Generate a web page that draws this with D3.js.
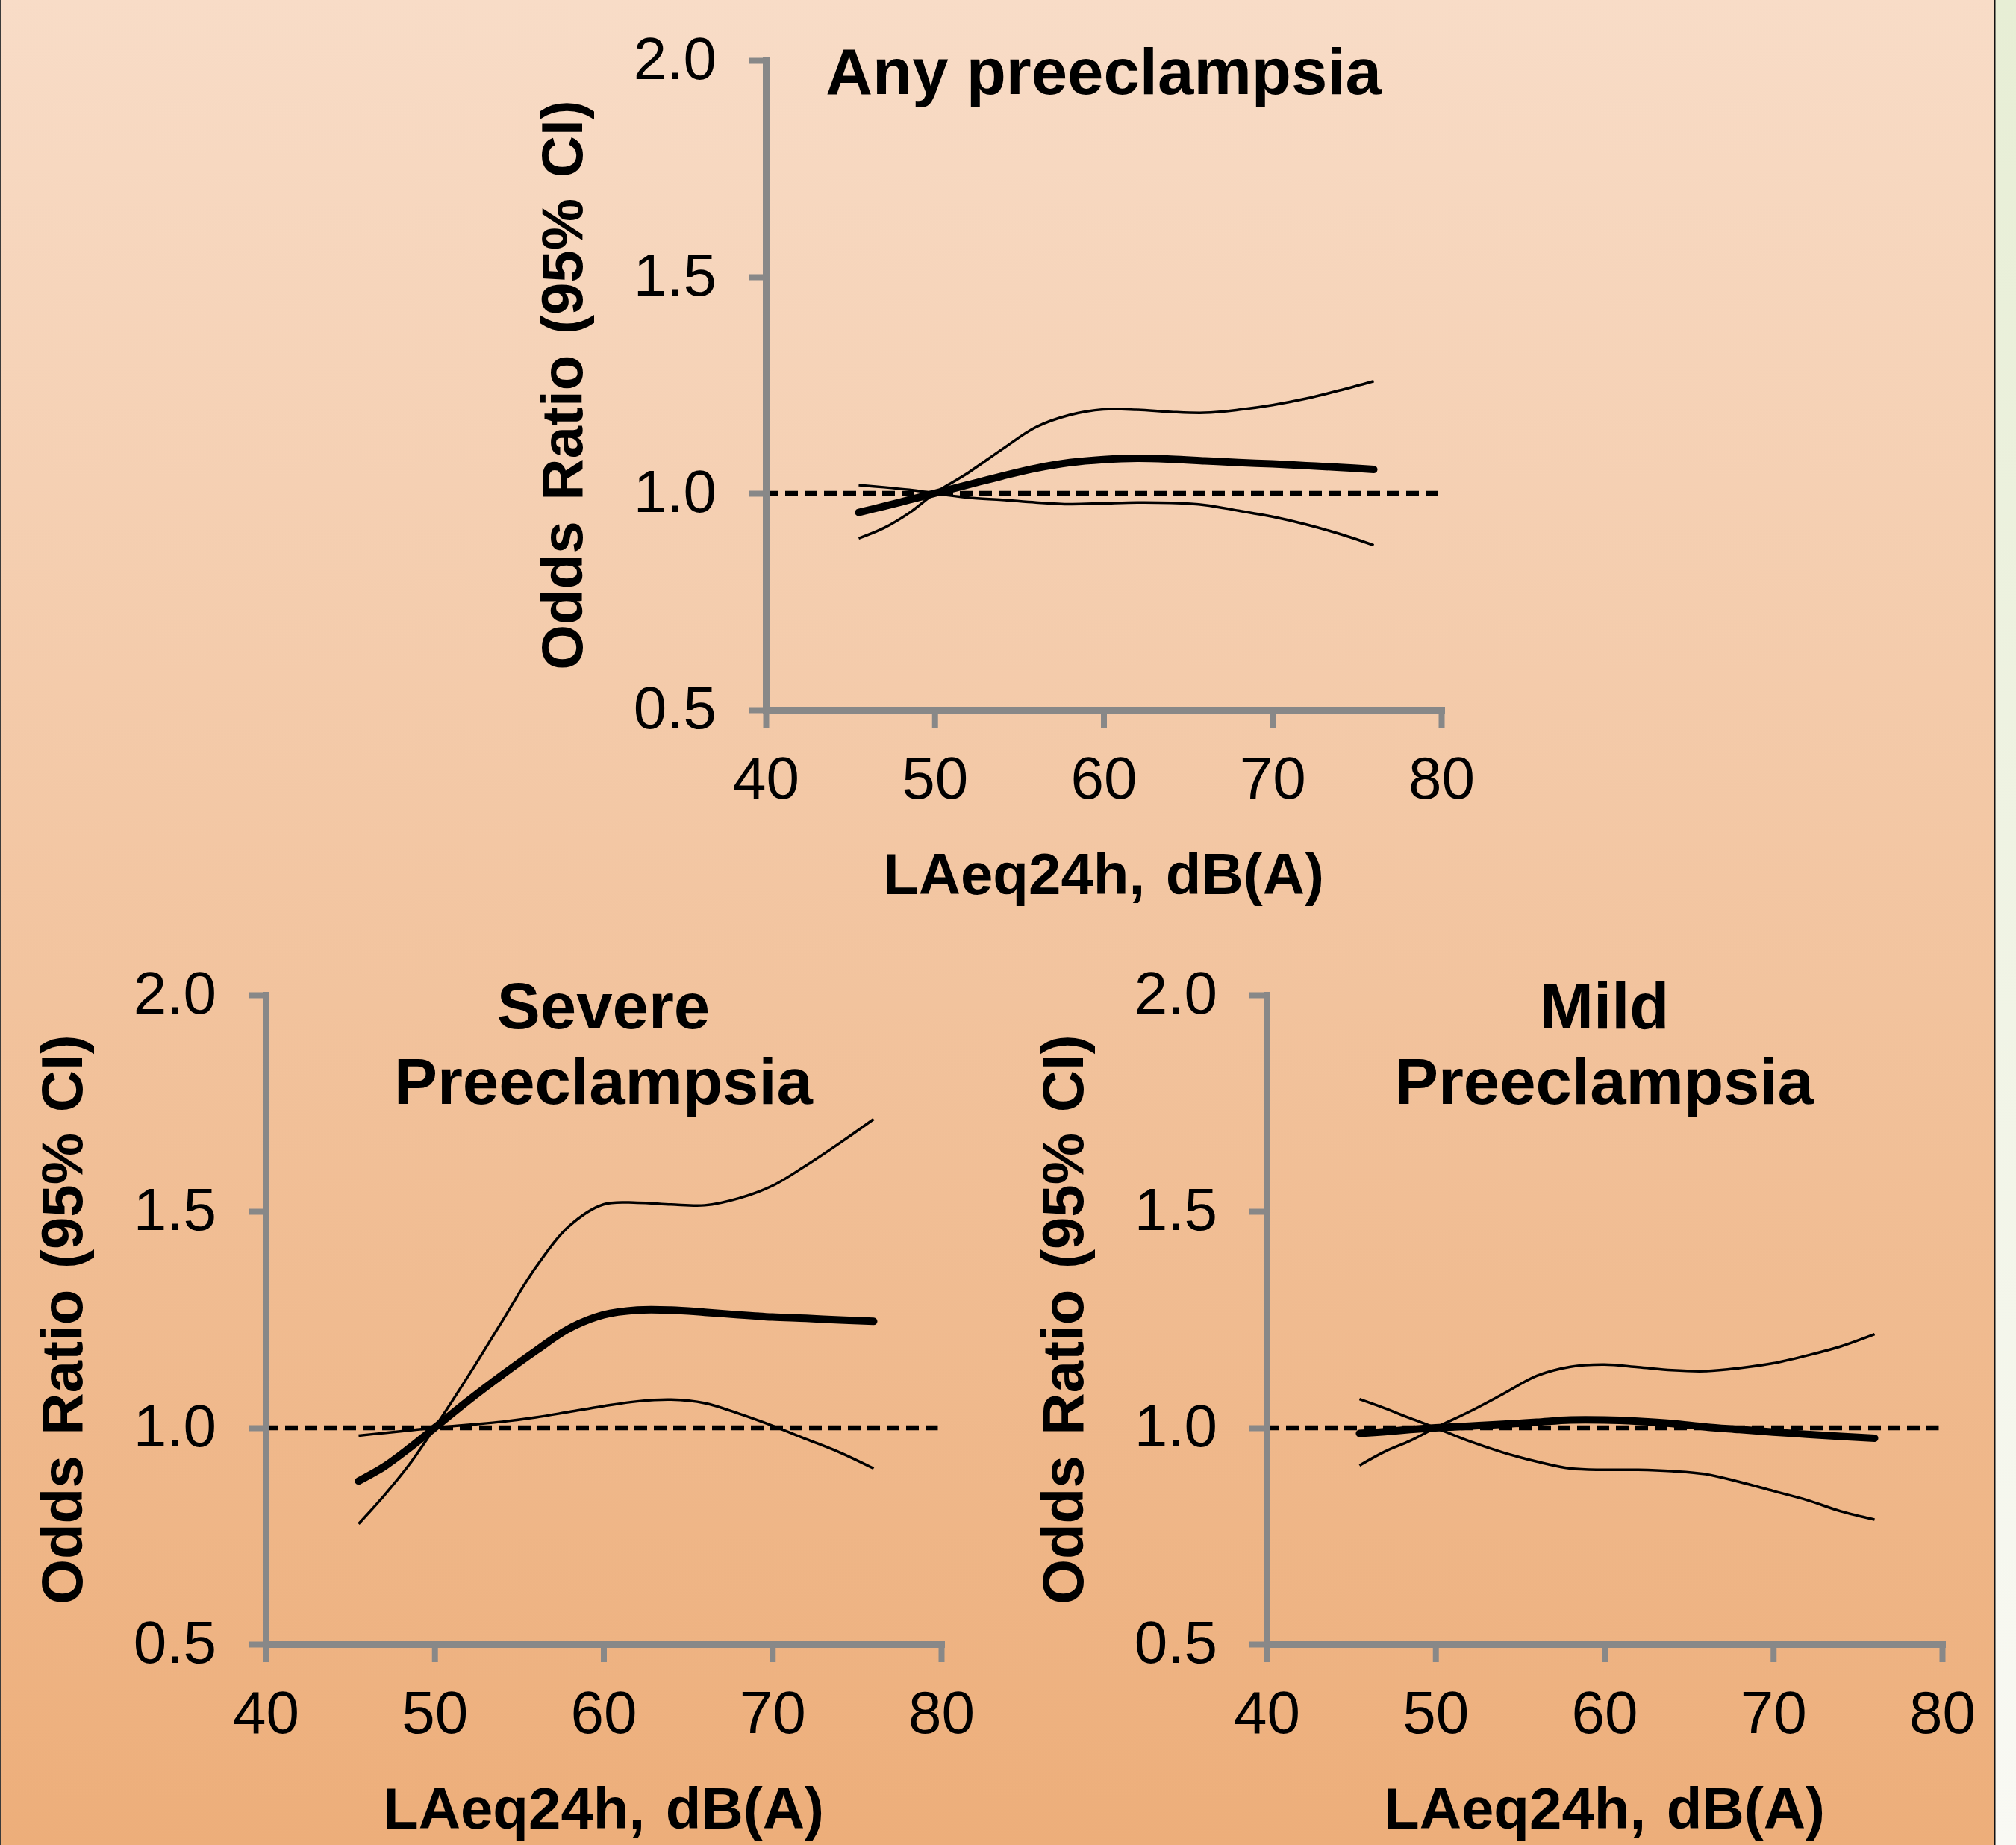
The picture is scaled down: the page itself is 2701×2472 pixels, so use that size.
<!DOCTYPE html>
<html>
<head>
<meta charset="utf-8">
<script src="https://cdn.jsdelivr.net/npm/d3@7"></script>
<style>
    html, body { margin: 0; padding: 0; background: #ffffff; }
    svg { display: block; }
    text { font-family: "Liberation Sans", Arial, sans-serif; fill: #000000; }
</style>
</head>
<body>
<svg id="chart"></svg>
<script>
// LAeq24h sample points shared by all three panels
const noiseLevels = [45.5, 47, 48.5, 50, 52, 54, 56, 58, 60, 62, 64, 66, 68, 70, 72, 74, 76];

const anyEstimate = [0.956, 0.970, 0.985, 1.000, 1.020, 1.040, 1.058, 1.071, 1.078, 1.081, 1.079, 1.075, 1.071, 1.068, 1.064, 1.060, 1.055];
const anyUpper = [0.896, 0.920, 0.955, 1.000, 1.048, 1.102, 1.153, 1.181, 1.194, 1.193, 1.188, 1.186, 1.193, 1.204, 1.219, 1.238, 1.259];
const anyLower = [1.019, 1.014, 1.008, 1.000, 0.990, 0.985, 0.979, 0.975, 0.977, 0.979, 0.978, 0.973, 0.960, 0.946, 0.928, 0.906, 0.880];

const severeEstimate = [0.877, 0.910, 0.953, 1.000, 1.063, 1.122, 1.178, 1.230, 1.261, 1.272, 1.272, 1.267, 1.261, 1.256, 1.253, 1.249, 1.246];
const severeUpper = [0.778, 0.843, 0.915, 1.000, 1.120, 1.246, 1.371, 1.467, 1.516, 1.520, 1.516, 1.514, 1.530, 1.559, 1.606, 1.658, 1.713];
const severeLower = [0.982, 0.988, 0.994, 1.000, 1.007, 1.014, 1.024, 1.037, 1.050, 1.061, 1.065, 1.057, 1.033, 1.005, 0.974, 0.943, 0.906];

const mildEstimate = [0.987, 0.991, 0.996, 1.000, 1.004, 1.008, 1.013, 1.018, 1.018, 1.015, 1.010, 1.002, 0.996, 0.990, 0.985, 0.980, 0.976];
const mildUpper = [0.913, 0.945, 0.970, 1.000, 1.037, 1.078, 1.120, 1.141, 1.146, 1.140, 1.133, 1.131, 1.138, 1.149, 1.167, 1.188, 1.216];
const mildLower = [1.066, 1.045, 1.022, 1.000, 0.969, 0.943, 0.922, 0.906, 0.903, 0.903, 0.900, 0.893, 0.875, 0.854, 0.833, 0.807, 0.788];

const xTicks = [40, 50, 60, 70, 80];
const yTicks = [0.5, 1.0, 1.5, 2.0];
const xDomain = [40, 80];
const yDomain = [0.5, 2.0];
const referenceOdds = 1.0;

const yAxisTitle = 'Odds Ratio (95% CI)';
const xAxisTitle = 'LAeq24h, dB(A)';

const panelTitles = [
    ['Any preeclampsia'],
    ['Severe', 'Preeclampsia'],
    ['Mild', 'Preeclampsia'],
];

const panelSeries = [
    { estimate: anyEstimate, upper: anyUpper, lower: anyLower },
    { estimate: severeEstimate, upper: severeUpper, lower: severeLower },
    { estimate: mildEstimate, upper: mildUpper, lower: mildLower },
];

// plot frames: left edge of the x axis and top of the y axis, in page pixels
const panelFrames = [
    { left: 1026, top: 81 },
    { left: 356, top: 1333 },
    { left: 1697, top: 1333 },
];

const width = 2701;
const height = 2472;
const plotWidth = 905;
const plotHeight = 870;
const axisColor = '#888888';

const svg = d3.select('#chart')
    .attr('width', width)
    .attr('height', height);

const defs = svg.append('defs');

const slideGradient = defs.append('linearGradient')
    .attr('id', 'slide-bg')
    .attr('x1', 0).attr('y1', 0)
    .attr('x2', 0).attr('y2', 1);
slideGradient.append('stop').attr('offset', '0%').attr('stop-color', '#f8dcc7');
slideGradient.append('stop').attr('offset', '100%').attr('stop-color', '#edae7a');

const sideGradient = defs.append('linearGradient')
    .attr('id', 'side-bg')
    .attr('x1', 0).attr('y1', 0)
    .attr('x2', 0).attr('y2', 1);
sideGradient.append('stop').attr('offset', '0%').attr('stop-color', '#e7eed5');
sideGradient.append('stop').attr('offset', '100%').attr('stop-color', '#f9f9f4');

svg.append('rect')
    .attr('width', width)
    .attr('height', height)
    .style('fill', 'url(#side-bg)');

svg.append('rect')
    .attr('width', 2672)
    .attr('height', height)
    .style('fill', 'url(#slide-bg)');

svg.append('rect')
    .attr('x', 0)
    .attr('width', 2)
    .attr('height', height)
    .style('fill', '#3a3a3a');

svg.append('rect')
    .attr('x', 2671)
    .attr('width', 2.5)
    .attr('height', height)
    .style('fill', '#111111');

const x = d3.scaleLinear().domain(xDomain).range([0, plotWidth]);
const y = d3.scaleLinear().domain(yDomain).range([plotHeight, 0]);

const curve = d3.line()
    .x(d => x(d[0]))
    .y(d => y(d[1]))
    .curve(d3.curveCatmullRom.alpha(0.5));

const toPoints = values => values.map((v, i) => [noiseLevels[i], v]);

function drawPanel(frame, titleLines, series) {
    const g = svg.append('g')
        .attr('transform', `translate(${frame.left},${frame.top})`);

    // reference line at OR = 1
    g.append('line')
        .attr('x1', x(xDomain[0]))
        .attr('x2', x(79.8))
        .attr('y1', y(referenceOdds))
        .attr('y2', y(referenceOdds))
        .style('stroke', '#000000')
        .style('stroke-width', 6.5)
        .style('stroke-dasharray', '17 9');

    const yAxis = g.append('g')
        .call(d3.axisLeft(y)
            .tickValues(yTicks)
            .tickSize(23)
            .tickSizeOuter(0)
            .tickPadding(43)
            .tickFormat(d3.format('.1f')));

    const xAxis = g.append('g')
        .attr('transform', `translate(0,${plotHeight})`)
        .call(d3.axisBottom(x)
            .tickValues(xTicks)
            .tickSize(24)
            .tickSizeOuter(0)
            .tickPadding(38));

    [yAxis, xAxis].forEach(axis => {
        axis.select('.domain')
            .style('stroke', axisColor)
            .style('stroke-width', 9)
            .style('stroke-linecap', 'square');
        axis.selectAll('.tick line')
            .style('stroke', axisColor)
            .style('stroke-width', 8);
        axis.selectAll('.tick text')
            .style('font-size', '80px')
            .style('fill', '#000000');
    });

    yAxis.selectAll('.tick text').attr('dy', '0.31em');

    // confidence limits then the point estimate on top
    [series.upper, series.lower].forEach(values => {
        g.append('path')
            .datum(toPoints(values))
            .attr('d', curve)
            .style('fill', 'none')
            .style('stroke', '#000000')
            .style('stroke-width', 3.5);
    });

    g.append('path')
        .datum(toPoints(series.estimate))
        .attr('d', curve)
        .style('fill', 'none')
        .style('stroke', '#000000')
        .style('stroke-width', 10)
        .style('stroke-linecap', 'round');

    g.append('text')
        .attr('transform', `translate(-246,${plotHeight / 2}) rotate(-90)`)
        .attr('text-anchor', 'middle')
        .style('font-size', '78px')
        .style('font-weight', 'bold')
        .style('word-spacing', '6px')
        .text(yAxisTitle);

    g.append('text')
        .attr('x', x(60))
        .attr('y', plotHeight + 247)
        .attr('text-anchor', 'middle')
        .style('font-size', '78px')
        .style('font-weight', 'bold')
        .style('word-spacing', '6px')
        .text(xAxisTitle);

    g.append('text')
        .attr('text-anchor', 'middle')
        .style('font-size', '87px')
        .style('font-weight', 'bold')
        .selectAll('tspan')
        .data(titleLines)
        .enter()
        .append('tspan')
        .attr('x', x(60))
        .attr('y', (d, i) => 45 + i * 101)
        .text(d => d);
}

panelFrames.forEach((frame, i) => drawPanel(frame, panelTitles[i], panelSeries[i]));
</script>
</body>
</html>
